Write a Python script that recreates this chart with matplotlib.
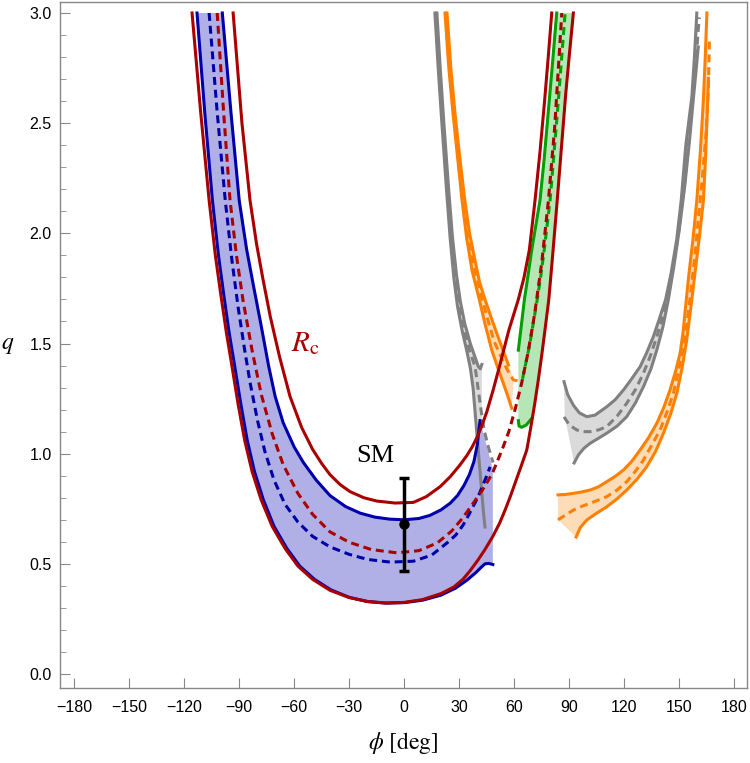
import numpy as np
import matplotlib.pyplot as plt
from matplotlib.ticker import FormatStrFormatter

plt.rcParams['font.family'] = ['Liberation Sans', 'DejaVu Sans']
plt.rcParams['mathtext.fontset'] = 'stix'

# ---- curves: phi [deg] vs q ----
# red, outer U (lower bound)
red_lo_phi = [-115.7, -111, -106.4, -103, -100, -97, -94, -90.5, -87, -83, -78, -72, -65, -58, -50,
              -40.5, -30, -20, -10, 0, 10, 20, 27, 32, 36, 40, 44, 48.3, 52, 55, 58, 61, 64,
              66.8, 69, 71, 73, 75, 77, 78.8, 80.8, 83.1, 85.5, 88, 90, 92.2]
red_lo_q = [3.0, 2.55, 2.15, 1.90, 1.72, 1.55, 1.40, 1.22, 1.06, 0.92, 0.79, 0.67, 0.57, 0.49, 0.43,
            0.38, 0.347, 0.329, 0.322, 0.325, 0.338, 0.365, 0.395, 0.43, 0.47, 0.515, 0.565, 0.625,
            0.685, 0.745, 0.81, 0.88, 0.95, 1.017, 1.12, 1.22, 1.33, 1.45, 1.58, 1.70, 1.89, 2.12,
            2.37, 2.63, 2.81, 3.0]
# red, inner U (R_c)
rc_phi = [-93.3, -88.5, -84.1, -80.5, -77, -73, -68, -62.3, -56, -50, -45, -40.5, -35, -29.6, -22,
          -15, -5, 5, 12, 19.5, 25, 30, 34, 37, 39.7, 42, 45, 48.5, 52.2, 57, 62.2, 65.3, 68.2,
          71.3, 74, 76.5, 78.5, 80.4]
rc_q = [3.0, 2.5, 2.15, 1.95, 1.79, 1.62, 1.44, 1.26, 1.12, 1.02, 0.955, 0.905, 0.86, 0.828, 0.80,
        0.785, 0.776, 0.779, 0.805, 0.85, 0.895, 0.945, 0.99, 1.03, 1.075, 1.12, 1.19, 1.29, 1.405,
        1.56, 1.70, 1.80, 1.925, 2.15, 2.37, 2.6, 2.8, 3.0]
# red dashed
red_d_phi = [-102, -98.5, -95, -91.5, -88, -83, -78, -72, -66, -58, -50, -40.5, -30, -18, -4, 8, 18,
             26, 32, 38, 43, 48, 53.3, 57, 60.4, 64, 67.5, 71, 75, 78.6, 82, 85.9]
red_d_q = [3.0, 2.55, 2.15, 1.90, 1.70, 1.47, 1.27, 1.09, 0.95, 0.82, 0.725, 0.645, 0.598, 0.565,
           0.55, 0.56, 0.595, 0.65, 0.71, 0.78, 0.84, 0.91, 1.017, 1.10, 1.2, 1.32, 1.46, 1.63,
           1.87, 2.15, 2.48, 3.0]

# blue solid, outer (ends in a small hook)
blue_out_phi = [-113, -108.8, -104.6, -101.3, -98.4, -95.5, -92.5, -89, -85.6, -81.7, -76.8, -71,
                -64, -57, -49, -40, -30, -20, -10, 0, 10, 20, 28, 34, 39, 42, 44, 46, 48.3]
blue_out_q = [3.0, 2.55, 2.15, 1.90, 1.72, 1.55, 1.40, 1.22, 1.06, 0.92, 0.79, 0.67, 0.57, 0.49,
              0.43, 0.382, 0.348, 0.329, 0.322, 0.324, 0.335, 0.358, 0.39, 0.425, 0.46, 0.485,
              0.50, 0.502, 0.497]
# blue solid, inner
blue_in_phi = [-99.2, -94.5, -90, -86, -82.4, -78, -74, -70.4, -66, -60, -55, -48, -40.5, -32,
               -24, -16, -8, 0, 8, 14, 20, 25, 29, 32.5, 35.5, 38, 39.8, 41.3]
blue_in_q = [3.0, 2.55, 2.15, 1.93, 1.77, 1.58, 1.40, 1.26, 1.14, 1.03, 0.96, 0.88, 0.81, 0.76,
             0.73, 0.712, 0.703, 0.70, 0.706, 0.72, 0.745, 0.775, 0.81, 0.855, 0.905, 0.965,
             1.04, 1.15]
# blue dashed
blue_d_phi = [-106.4, -102, -97.6, -94, -90.5, -87, -84, -80, -76, -71, -65, -58, -50, -40.5, -30,
              -20, -7.7, 5, 15, 23.3, 28, 32, 35, 37.5, 40, 42, 44.5, 46.8]
blue_d_q = [3.0, 2.55, 2.15, 1.88, 1.66, 1.47, 1.32, 1.15, 1.01, 0.88, 0.77, 0.69, 0.625, 0.577,
            0.543, 0.52, 0.508, 0.512, 0.54, 0.595, 0.63, 0.675, 0.72, 0.76, 0.80, 0.84, 0.89, 0.94]

# green band
green_phi = [62.2, 63.8, 65.5, 67.5, 69.5, 71.8, 74, 76.3, 78.5, 80.8, 83.1]
green_q = [1.47, 1.58, 1.70, 1.81, 1.925, 2.04, 2.15, 2.34, 2.55, 2.77, 3.0]
green_hook_phi = [62.2, 62.6, 64, 66.5, 69.5]
green_hook_q = [1.15, 1.125, 1.12, 1.13, 1.16]
green_d_phi = [64.5, 66.5, 68.5, 70.5, 72.5, 74.5, 76.3, 79.5, 83.5, 87.7]
green_d_q = [1.34, 1.42, 1.50, 1.60, 1.70, 1.81, 1.925, 2.15, 2.55, 3.0]

# gray band, left
gray_a_phi = [16.7, 18.5, 20.5, 23, 25, 27, 29, 31.5, 34, 36, 37.5, 38.5, 39.5, 40.5, 42, 43, 44]
gray_a_q = [3.0, 2.75, 2.5, 2.2, 1.98, 1.80, 1.67, 1.56, 1.47, 1.39, 1.30, 1.20, 1.10, 1.00, 0.85,
            0.75, 0.667]
gray_b_phi = [17.8, 19.6, 21.6, 24.2, 26.3, 28.5, 30.6, 33, 36, 38.5, 40.4, 41.5, 42.3]
gray_b_q = [3.0, 2.75, 2.5, 2.2, 1.98, 1.81, 1.69, 1.59, 1.50, 1.44, 1.395, 1.385, 1.405]
gray_ad_phi = [17.3, 19, 21, 23.6, 25.7, 27.8, 30, 32.5, 35.5, 38.6, 40.5, 42, 43.5, 45.5, 48.4]
gray_ad_q = [3.0, 2.75, 2.5, 2.2, 1.98, 1.80, 1.68, 1.57, 1.47, 1.395, 1.28, 1.19, 1.11, 1.04, 0.96]

# orange band, left
orng_a_phi = [22.2, 24.3, 26.5, 29, 31.5, 34, 37, 40.9, 44, 47.7, 51, 54, 56.5, 58.6]
orng_a_q = [3.0, 2.75, 2.55, 2.35, 2.15, 1.98, 1.83, 1.70, 1.59, 1.47, 1.39, 1.32, 1.26, 1.206]
orng_b_phi = [23.3, 25.4, 27.6, 30.2, 33, 35.6, 38.5, 41, 44, 47.3, 50.4, 53.8, 56.8]
orng_b_q = [3.0, 2.75, 2.55, 2.35, 2.15, 2.0, 1.88, 1.78, 1.70, 1.62, 1.547, 1.47, 1.403]
orng_ad_phi = [22.8, 24.9, 27, 29.6, 32.3, 35, 38, 42.5, 45.8, 49, 52.2, 55, 57.5, 59.5, 62.2]
orng_ad_q = [3.0, 2.75, 2.55, 2.35, 2.15, 1.99, 1.85, 1.70, 1.60, 1.51, 1.45, 1.40, 1.36, 1.335, 1.33]

# gray band, right
gray_up_phi = [87.1, 89, 92.2, 95.5, 99.5, 104, 110.4, 115, 119.5, 124, 128.6, 132, 135.8, 139,
               142.5, 145.5, 148.5, 151, 153.5, 155.3, 156.8, 158.2, 159.5]
gray_up_q = [1.327, 1.27, 1.22, 1.185, 1.168, 1.175, 1.213, 1.245, 1.289, 1.34, 1.395, 1.455,
             1.531, 1.61, 1.70, 1.82, 1.97, 2.15, 2.40, 2.52, 2.62, 2.80, 3.0]
gray_lo_phi = [92.6, 95, 98, 101.3, 105.5, 110.4, 116, 121.3, 126, 130.4, 134.5, 137.7, 141, 144,
               147, 150, 153, 155.5, 157.5, 159, 160.3]
gray_lo_q = [0.958, 0.995, 1.025, 1.047, 1.068, 1.093, 1.125, 1.168, 1.23, 1.304, 1.385, 1.471,
             1.575, 1.70, 1.85, 2.02, 2.22, 2.42, 2.6, 2.73, 2.846]
gray_d_phi = [87.1, 90, 94, 97.5, 101.3, 106, 110.4, 116, 121.3, 126, 130.4, 134, 137.7, 140.5,
              143.5, 146.5, 149.5, 152.5, 155, 157, 158.8, 160.8]
gray_d_q = [1.167, 1.13, 1.108, 1.10, 1.10, 1.108, 1.123, 1.17, 1.229, 1.29, 1.365, 1.44, 1.531,
            1.61, 1.70, 1.84, 2.0, 2.2, 2.4, 2.58, 2.76, 2.98]

# orange band, right
orng_up_phi = [83.8, 88, 92.2, 96.5, 101.3, 106, 110.4, 115, 119.5, 124, 128.6, 133, 137.7, 141.5,
               144.9, 147.8, 150.4, 152, 153.3, 155, 157.5, 159.5, 161.5, 163.1, 164.1, 165]
orng_up_q = [0.813, 0.815, 0.82, 0.826, 0.835, 0.85, 0.873, 0.897, 0.926, 0.965, 1.017, 1.07,
             1.138, 1.21, 1.289, 1.37, 1.456, 1.55, 1.66, 1.80, 1.98, 2.15, 2.38, 2.606, 2.80, 3.0]
orng_lo_phi = [93.7, 96, 99.5, 104.5, 110.4, 116, 121.3, 127, 132.2, 137, 141.3, 145.2, 148.6,
               151.5, 154, 156.8, 158.8, 161, 163.1, 164.3, 165.2, 165.8]
orng_lo_q = [0.622, 0.665, 0.699, 0.728, 0.759, 0.795, 0.835, 0.885, 0.941, 1.01, 1.093, 1.18,
             1.274, 1.39, 1.516, 1.70, 1.84, 1.99, 2.15, 2.35, 2.55, 2.704]
orng_d_phi = [83.8, 88, 92.2, 96.5, 101.3, 106, 110.4, 116, 121.3, 126, 130.4, 135, 139.5, 143.3,
              146.7, 149.6, 152.2, 154, 156, 158.5, 160.5, 162.5, 164.5, 165.8, 166.4]
orng_d_q = [0.70, 0.722, 0.744, 0.76, 0.775, 0.79, 0.805, 0.835, 0.873, 0.92, 0.971, 1.04, 1.108,
            1.19, 1.274, 1.38, 1.486, 1.58, 1.72, 1.90, 2.08, 2.25, 2.45, 2.65, 2.886]

# Standard Model point
sm_phi = 0.0
sm_q = 0.68
sm_lo = 0.469
sm_hi = 0.888

RED = '#aa0000'
BLUE = '#0000aa'
GREEN = '#00a000'
ORANGE = '#ff8000'
GRAY = '#808080'
FRAME = '#888888'

fig = plt.figure(figsize=(7.5, 7.63), dpi=100)
ax = fig.add_axes([0.08, 0.0987, 0.9156, 0.8987])


def line(phi, q, color, dashed=False, z=3):
    if dashed:
        ax.plot(phi, q, color=color, lw=2.2, zorder=z + 0.5, dashes=(2.6, 1.6))
    else:
        ax.plot(phi, q, color=color, lw=2.2, zorder=z)


# filled bands
ax.fill(np.r_[blue_out_phi, 48.3, blue_in_phi[::-1]],
        np.r_[blue_out_q, 0.93, blue_in_q[::-1]], color='#b0b0e6', lw=0, zorder=1)

red_edge = [(p, q) for p, q in zip(red_lo_phi, red_lo_q) if p > 60 and q > 1.17]
ax.fill(np.r_[green_hook_phi[0], green_phi, [p for p, q in red_edge][::-1], green_hook_phi[::-1]],
        np.r_[green_hook_q[0], green_q, [q for p, q in red_edge][::-1], green_hook_q[::-1]],
        color='#b6e6b6', lw=0, zorder=1)

ax.fill(np.r_[gray_a_phi[:13], 42.3, gray_b_phi[::-1]],
        np.r_[gray_a_q[:13], 1.15, gray_b_q[::-1]], color='#dadada', lw=0, zorder=1)
ax.fill(np.r_[orng_a_phi, 59.5, orng_b_phi[::-1]],
        np.r_[orng_a_q, 1.335, orng_b_q[::-1]], color='#ffdcb8', lw=0, zorder=1)
ax.fill(np.r_[gray_up_phi, gray_lo_phi[::-1], 87.5],
        np.r_[gray_up_q, gray_lo_q[::-1], 1.17], color='#dadada', lw=0, zorder=1)
ax.fill(np.r_[orng_up_phi, orng_lo_phi[::-1], 83.8],
        np.r_[orng_up_q, orng_lo_q[::-1], 0.70], color='#ffdcb8', lw=0, zorder=1)

# lines
line(gray_a_phi, gray_a_q, GRAY)
line(gray_b_phi, gray_b_q, GRAY)
line(gray_ad_phi, gray_ad_q, GRAY, dashed=True)
line(orng_a_phi, orng_a_q, ORANGE)
line(orng_b_phi, orng_b_q, ORANGE)
line(orng_ad_phi, orng_ad_q, ORANGE, dashed=True)
line(gray_up_phi, gray_up_q, GRAY)
line(gray_lo_phi, gray_lo_q, GRAY)
line(gray_d_phi, gray_d_q, GRAY, dashed=True)
line(orng_up_phi, orng_up_q, ORANGE)
line(orng_lo_phi, orng_lo_q, ORANGE)
line(orng_d_phi, orng_d_q, ORANGE, dashed=True)

line(green_phi, green_q, GREEN, z=4)
line(green_hook_phi, green_hook_q, GREEN, z=4)
line(green_d_phi, green_d_q, GREEN, dashed=True, z=4)

line(blue_out_phi, blue_out_q, BLUE, z=5)
line(blue_in_phi, blue_in_q, BLUE, z=5)
line(blue_d_phi, blue_d_q, BLUE, dashed=True, z=5)

line(red_lo_phi, red_lo_q, RED, z=6)
line(rc_phi, rc_q, RED, z=6)
line(red_d_phi, red_d_q, RED, dashed=True, z=6)

ax.errorbar([sm_phi], [sm_q], yerr=[[sm_q - sm_lo], [sm_hi - sm_q]], fmt='o', color='k',
            ms=6.5, lw=2.5, capsize=3.8, capthick=2.5, zorder=10)
ax.text(-16, 0.99, 'SM', fontsize=19, family='Liberation Serif', ha='center', va='center')
ax.text(-54, 1.50, r'$R_{\rm c}$', fontsize=21, color=RED, ha='center', va='center')

ax.set_xlim(-187.7, 186.7)
ax.set_ylim(-0.062, 3.05)
ax.set_xticks(np.arange(-180, 181, 30))
ax.set_yticks(np.arange(0, 3.01, 0.5))
ax.set_yticks(np.arange(0, 3.01, 0.1), minor=True)
ax.yaxis.set_major_formatter(FormatStrFormatter('%.1f'))
ax.tick_params(which='both', direction='in', color=FRAME, labelsize=11.5)
ax.tick_params(axis='x', length=7, pad=9)
ax.tick_params(axis='y', which='major', length=7, pad=6)
ax.tick_params(axis='y', which='minor', length=4.5)
for s in ax.spines.values():
    s.set_color(FRAME)
    s.set_linewidth(1.0)

ax.set_xlabel(r'$\phi\ [\mathrm{deg}]$', fontsize=17, va='center')
ax.xaxis.set_label_coords(0.5, -0.081)
ax.set_ylabel(r'$q$', fontsize=17, rotation=0, va='center', ha='center')
ax.yaxis.set_label_coords(-0.076, 0.5)

fig.savefig('out.png', dpi=100)
